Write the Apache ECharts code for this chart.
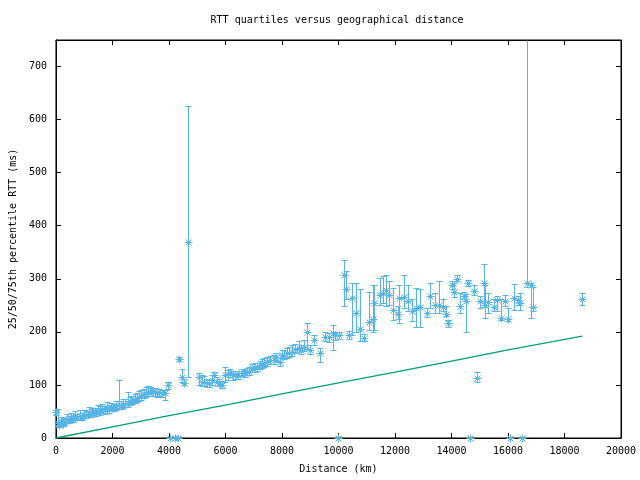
<!DOCTYPE html>
<html><head><meta charset="utf-8">
<script src="https://cdn.jsdelivr.net/npm/echarts@6/dist/echarts.min.js"></script>
<style>html,body{margin:0;padding:0;background:#fff}#c{width:640px;height:480px}</style>
</head><body><div id="c"></div>
<script>
// Distance (km) of each bin
const distance = [0,60,120,180,240,300,380,450,530,600,680,760,840,920,1000,1080,1160,1240,1320,1400,1480,1560,1640,1720,1800,1880,1960,2040,2120,2220,2300,2380,2460,2540,2620,2700,2780,2860,2940,3020,3100,3180,3260,3340,3420,3500,3580,3660,3740,3870,3960,4050,4200,4330,4370,4470,4540,4680,5070,5180,5250,5340,5420,5510,5600,5700,5770,5880,5990,6080,6160,6250,6340,6440,6580,6680,6760,6830,6940,7040,7110,7220,7290,7380,7460,7570,7710,7800,7920,8000,8080,8170,8260,8350,8450,8590,8680,8770,8870,8980,9150,9330,9510,9680,9820,9860,10000,10030,10180,10280,10390,10490,10630,10770,10920,11090,11230,11270,11480,11580,11690,11800,11940,12110,12150,12320,12460,12610,12750,12890,13130,13240,13420,13560,13700,13800,13870,14010,14080,14190,14300,14440,14510,14580,14650,14790,14890,15000,15140,15180,15280,15490,15600,15740,15880,15990,16060,16200,16340,16410,16480,16690,16830,16900,18630];
// 25th percentile RTT (ms)
const q25 = [44,22,20,26,22,25,30,28,32,30,35,33,36,34,38,37,42,40,43,41,46,44,48,46,50,48,52,50,53,55,54,57,58,59,62,64,66,68,70,72,75,78,80,82,80,79,78,80,77,72,92,0,0,0,145,106,100,115,100,98,98,96,97,100,106,98,98,94,106,110,115,110,112,112,116,115,118,118,124,125,127,130,131,134,136,140,140,145,136,150,148,150,153,155,160,162,158,164,168,158,175,143,182,180,166,185,0,186,248,262,186,194,200,182,182,204,200,204,250,255,248,250,223,225,216,245,240,220,210,210,228,245,235,235,240,229,210,280,265,295,235,262,200,287,0,270,105,245,247,227,235,240,240,222,248,220,0,242,250,242,0,285,227,240,250];
// median RTT (ms)
const q50 = [49,28,25,32,27,31,36,34,38,36,41,39,42,40,44,43,49,46,50,48,53,51,55,53,57,55,58,57,60,62,61,64,65,66,69,71,72,75,77,79,82,85,87,89,88,86,85,86,84,85,100,0,0,0,149,115,104,370,115,106,106,104,104,110,119,106,104,100,119,120,123,118,119,119,123,122,125,125,132,132,134,138,138,141,143,147,147,152,143,157,155,160,160,162,167,170,166,172,200,166,185,160,190,190,198,194,0,194,307,281,194,264,236,206,189,219,224,255,270,274,279,270,241,234,264,266,258,240,245,247,236,268,251,251,247,234,217,289,275,300,249,268,258,292,0,277,113,258,292,251,257,247,260,226,258,225,0,264,260,255,0,292,289,247,262];
// 75th percentile RTT (ms)
const q75 = [53,55,32,40,36,38,45,42,47,44,50,46,52,48,53,50,58,55,57,56,62,60,64,60,68,63,66,65,70,109,70,74,73,86,78,80,82,84,88,90,92,96,98,97,95,94,92,93,91,91,106,0,0,0,153,130,112,626,123,118,116,112,110,118,124,115,112,108,134,128,130,126,126,127,130,129,132,133,139,141,142,146,148,150,152,155,156,160,152,166,165,170,172,175,178,182,176,184,217,175,195,170,200,198,213,200,0,200,336,314,202,292,292,281,196,276,289,289,302,305,308,295,283,248,289,308,289,262,283,280,245,292,273,295,262,248,222,295,292,308,273,276,271,298,0,289,125,268,328,289,273,262,268,262,270,245,0,290,268,273,0,900,293,285,273];
// speed-of-light reference line
const lineDistance = [0,2000,4000,6000,8000,10000,12000,14000,16000,18630];
const lineRtt = [0,21,42,62,83,104,124,145,166,192];

const yMaxVal = 750;
const FONT = 'DejaVu Sans Mono';
const BLUE = '#56b4e9';
const chart = echarts.init(document.getElementById('c'), null, {renderer:'canvas'});
const data = distance.map((d,i)=>[d,q25[i],q50[i],q75[i]]);
const lineData = lineDistance.map((d,i)=>[d,lineRtt[i]]);

function seg(x1,y1,x2,y2){
  return {type:'line', shape:{x1:x1,y1:y1,x2:x2,y2:y2}, style:{stroke:BLUE, lineWidth:1, opacity:1}, silent:true};
}
function renderItem(params, api){
  const x = api.value(0);
  const hiV = api.value(3);
  const clipped = hiV > yMaxVal;
  const lo = api.coord([x, api.value(1)]);
  const md = api.coord([x, api.value(2)]);
  const hi = api.coord([x, Math.min(hiV, yMaxVal)]);
  const px = Math.round(lo[0]) + 0.5;
  const yl = Math.round(lo[1]) + 0.5, ym = Math.round(md[1]) + 0.5, yh = Math.round(hi[1]) + 0.5;
  const cw = 3, r = 4, d = 3;
  const ch = [];
  if (yl !== yh) {
    ch.push(seg(px, yl, px, yh));
    ch.push(seg(px-cw, yl, px+cw, yl));
    if (!clipped) ch.push(seg(px-cw, yh, px+cw, yh));
  }
  ch.push(seg(px-r, ym, px+r, ym));
  ch.push(seg(px, ym-r, px, ym+r));
  ch.push(seg(px-d, ym-d, px+d, ym+d));
  ch.push(seg(px-d, ym+d, px+d, ym-d));
  return {type:'group', children:ch};
}

const axisCommon = {
  axisLine:{show:true, onZero:false, lineStyle:{color:'#000', width:1}},
  axisTick:{show:true, inside:true, length:5, lineStyle:{color:'#000'}},
  splitLine:{show:false}
};
const txt = {color:'#000', fontFamily:FONT, fontSize:10};
const plain = v => String(v);

chart.setOption({
  animation:false,
  backgroundColor:'#fff',
  grid:{left:53, right:19, top:40, bottom:42, show:true, borderColor:'#000', borderWidth:1, containLabel:false},
  graphic:[{type:'text', x:337, y:20, style:{text:'RTT quartiles versus geographical distance', font:'10px "DejaVu Sans Mono"', fill:'#000', textAlign:'center', textVerticalAlign:'middle'}}],
  xAxis:[
    Object.assign({type:'value', min:0, max:20000, interval:2000, position:'bottom',
      axisLabel:Object.assign({margin:8, formatter:plain}, txt),
      name:'Distance (km)', nameLocation:'middle', nameGap:26, nameTextStyle:txt}, axisCommon),
    Object.assign({type:'value', min:0, max:20000, interval:2000, position:'top',
      axisLabel:{show:false}}, axisCommon)
  ],
  yAxis:[
    Object.assign({type:'value', min:0, max:yMaxVal, interval:100, position:'left',
      axisLabel:Object.assign({margin:9, showMaxLabel:false, formatter:plain}, txt),
      name:'25/50/75th percentile RTT (ms)', nameLocation:'middle', nameGap:36, nameTextStyle:txt}, axisCommon),
    Object.assign({type:'value', min:0, max:yMaxVal, interval:100, position:'right',
      axisLabel:{show:false}}, axisCommon)
  ],
  series:[
    {type:'line', data:lineData, xAxisIndex:0, yAxisIndex:0, symbol:'none', lineStyle:{color:'#009e73', width:1.3}, z:2},
    {type:'custom', data:data, xAxisIndex:0, yAxisIndex:0, renderItem:renderItem, z:3, encode:{x:0, y:[1,2,3]}}
  ]
});
</script></body></html>
